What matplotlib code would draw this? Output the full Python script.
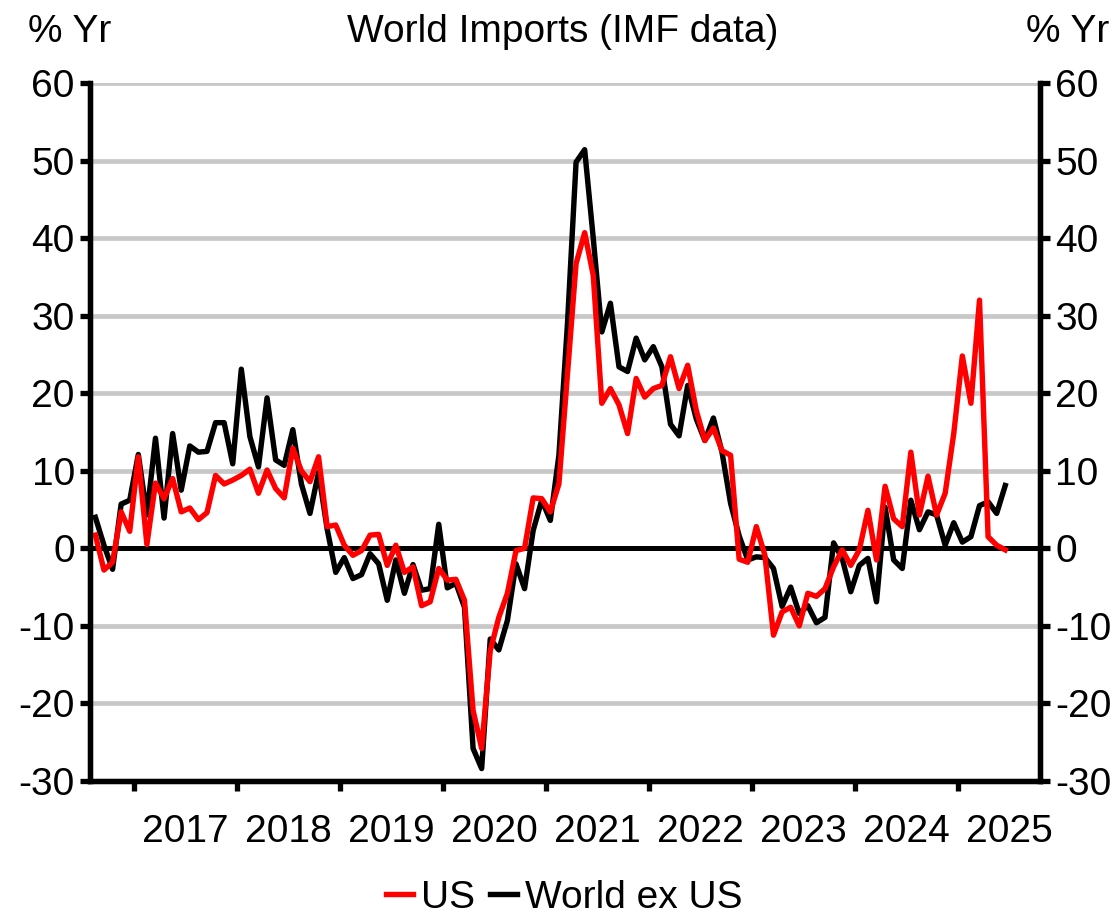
import matplotlib
matplotlib.use("Agg")
import matplotlib.pyplot as plt
from matplotlib.ticker import FixedLocator, NullFormatter, FixedFormatter

plt.rcParams['font.family'] = ['Liberation Sans', 'DejaVu Sans']
plt.rcParams['axes.unicode_minus'] = False

# monthly % yoy, Aug 2016 .. Jun 2025
us = [1.7, -2.8, -1.8, 4.7, 2.2, 11.8, 0.5, 8.4, 6.4, 9.0, 4.7, 5.2, 3.7, 4.6, 9.4, 8.3,
      8.8, 9.4, 10.2, 7.1, 10.1, 7.7, 6.5, 12.9, 10.0, 8.6, 11.8, 2.8, 3.0, 0.4, -0.9, -0.3,
      1.7, 1.8, -2.2, 0.4, -3.1, -2.4, -7.4, -6.9, -2.6, -4.1, -4.0, -6.7, -20.9, -25.8,
      -13.2, -8.9, -5.8, -0.3, 0.0, 6.5, 6.4, 4.7, 8.3, 22.5, 36.7, 40.7, 35.2, 18.7, 20.6,
      18.5, 14.8, 21.9, 19.5, 20.6, 21.0, 24.7, 20.6, 23.6, 17.8, 13.9, 15.5, 12.6, 12.0,
      -1.4, -1.8, 2.8, -0.9, -11.2, -8.2, -7.6, -10.0, -5.8, -6.2, -5.2, -2.4, -0.2, -2.2,
      -0.2, 4.9, -1.5, 8.0, 3.8, 2.8, 12.4, 4.3, 9.3, 4.3, 7.1, 14.8, 24.8, 18.7, 32.0,
      1.5, 0.4, -0.2]
world_ex_us = [4.0, 0.4, -2.7, 5.7, 6.2, 12.1, 4.3, 14.2, 3.9, 14.8, 7.5, 13.2, 12.4, 12.5,
               16.2, 16.2, 10.9, 23.1, 14.4, 10.5, 19.4, 11.4, 10.7, 15.3, 8.3, 4.5, 9.8, 2.5,
               -3.1, -1.2, -3.9, -3.4, -0.7, -2.0, -6.7, -1.5, -5.8, -2.1, -5.4, -5.2, 3.1,
               -5.1, -4.5, -7.6, -25.8, -28.4, -11.7, -13.1, -9.3, -2.0, -5.2, 2.3, 6.2, 3.6,
               12.0, 29.0, 49.8, 51.4, 40.0, 27.9, 31.6, 23.4, 22.8, 27.1, 24.3, 26.0, 23.4,
               16.0, 14.5, 21.0, 16.7, 13.9, 16.8, 12.4, 5.8, 1.6, -1.5, -1.1, -1.2, -2.6,
               -7.5, -5.0, -8.4, -7.4, -9.6, -8.9, 0.7, -1.3, -5.6, -2.2, -1.3, -6.9, 5.3,
               -1.5, -2.6, 6.2, 2.4, 4.7, 4.3, 0.4, 3.3, 0.8, 1.5, 5.5, 6.0, 4.5, 8.1]
years = list(range(2017, 2026))
yticks = list(range(-30, 61, 10))

t = [2016 + (7.5 + i) / 12 for i in range(len(us))]

fig = plt.figure(figsize=(11.17, 9.16), dpi=100)
ax = fig.add_axes([0.0806, 0.1474, 0.8505, 0.762])

ax.set_ylim(-30, 60)
ax.set_xlim(2016.573, 2025.796)
for y in yticks:
    ax.axhline(y, color='#c8c8c8', lw=3.4, zorder=0)
ax.axhline(0, color='black', lw=3.6, zorder=1)

ax.plot(t, world_ex_us, color='black', lw=3.9, label='World ex US', zorder=3)
ax.plot(t, us, color='#ff0000', lw=3.9, label='US', zorder=4)

for s in ['left', 'bottom', 'right']:
    ax.spines[s].set_linewidth(3.8)
ax.spines['top'].set_visible(False)

ax.set_yticks(yticks)
ax.tick_params(axis='y', labelsize=28, width=3.8, length=7, pad=4)
ax.xaxis.set_major_locator(FixedLocator(years))
ax.xaxis.set_major_formatter(NullFormatter())
ax.xaxis.set_minor_locator(FixedLocator([y + 0.5 for y in years]))
ax.xaxis.set_minor_formatter(FixedFormatter([str(y) for y in years]))
ax.tick_params(axis='x', which='major', width=3.8, length=7)
ax.tick_params(axis='x', which='minor', length=0, labelsize=28, pad=24)

ax2 = ax.twinx()
ax2.set_ylim(-30, 60)
ax2.set_yticks(yticks)
ax2.tick_params(axis='y', labelsize=28, width=3.8, length=7, pad=4)
for s in ax2.spines.values():
    s.set_linewidth(3.8)
ax2.spines['top'].set_visible(False)

fig.text(0.504, 0.965, 'World Imports (IMF data)', ha='center', va='center', fontsize=28)
fig.text(0.062, 0.965, '% Yr', ha='center', va='center', fontsize=28)
fig.text(0.956, 0.965, '% Yr', ha='center', va='center', fontsize=28)

h, l = ax.get_legend_handles_labels()
fig.legend(h[::-1], l[::-1], loc='center', bbox_to_anchor=(0.505, 0.02), ncol=2,
           frameon=False, fontsize=28, handlelength=0.7, handletextpad=0.2,
           columnspacing=0.4)

fig.savefig('out.png', dpi=100)
